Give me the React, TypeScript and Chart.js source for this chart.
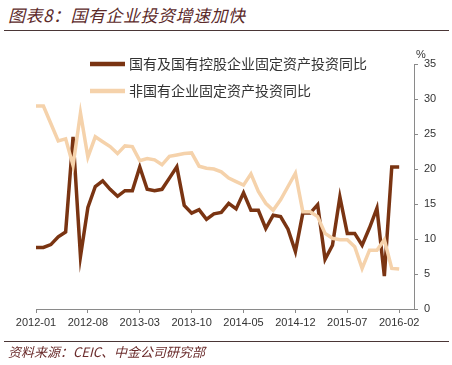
import React, { useEffect, useRef } from "react";
import { Chart, registerables } from "chart.js";

Chart.register(...registerables);

// ---- data ----
const months: string[] = (() => {
  const out: string[] = [];
  for (let k = 0; k < 52; k++) {
    const y = 2012 + Math.floor(k / 12);
    const m = (k % 12) + 1;
    out.push(`${y}-${m < 10 ? "0" + m : m}`);
  }
  return out;
})();

const tickLabels = ["2012-01", "2012-08", "2013-03", "2013-10", "2014-05", "2014-12", "2015-07", "2016-02"];

const soeLabel = "国有及国有控股企业固定资产投资同比";
const soeValues = [
  8.8, 8.8, 9.2, 10.3, 11.0, 24.6, 7.5, 14.5, 17.5, 18.3,
  17.1, 16.1, 16.9, 16.9, 20.3, 17.1, 16.9, 17.1, 18.7, 20.3,
  14.8, 13.7, 14.2, 12.8, 13.6, 13.8, 15.1, 14.3, 16.6, 14.1,
  14.1, 11.5, 13.4, 13.2, 11.4, 8.2, 13.7, 13.7, 14.9, 7.1,
  9.1, 16.0, 10.8, 10.8, 9.1, 11.6, 14.4, 4.7, 20.3, 20.3,
];

const nonSoeLabel = "非国有企业固定资产投资同比";
const nonSoeValues = [
  29.0, 29.0, 26.5, 24.0, 24.3, 20.5, 28.0, 21.7, 24.6, 23.9,
  23.2, 22.2, 23.3, 23.2, 21.2, 21.5, 21.3, 20.6, 21.8, 22.0,
  22.2, 22.3, 20.4, 20.1, 20.0, 19.6, 18.7, 18.2, 17.7, 19.3,
  16.8, 15.1, 14.1, 15.6, 17.5, 19.4, 13.9, 13.9, 13.2, 10.8,
  10.1, 9.9, 9.9, 8.9, 5.8, 8.4, 8.4, 9.9, 5.8, 5.7,
];

const yTicks = [0, 5, 10, 15, 20, 25, 30, 35];

const DARK = "#7a3412";
const LIGHT = "#f5d2ab";
const TEXT = "#333333";
const AXIS = "#8a8a8a";

const legendPlugin = {
  id: "customLegend",
  afterDraw(chart: any) {
    const ctx = chart.ctx;
    const items = [
      { label: soeLabel, color: DARK, y: 64 },
      { label: nonSoeLabel, color: LIGHT, y: 91 },
    ];
    ctx.save();
    items.forEach((it) => {
      ctx.strokeStyle = it.color;
      ctx.lineWidth = 4.5;
      ctx.beginPath();
      ctx.moveTo(90, it.y);
      ctx.lineTo(125, it.y);
      ctx.stroke();
      ctx.fillStyle = TEXT;
      ctx.font = '14px "Noto Sans CJK SC"';
      ctx.textBaseline = "middle";
      ctx.textAlign = "left";
      ctx.fillText(it.label, 129, it.y);
    });
    const yScale = chart.scales.y;
    ctx.font = '11px "Liberation Sans", Arial, sans-serif';
    ctx.textAlign = "center";
    ctx.fillStyle = TEXT;
    ctx.fillText("%", yScale.left + 7, yScale.top - 9);
    ctx.restore();
  },
};

export default function App() {
  const ref = useRef<HTMLCanvasElement | null>(null);

  useEffect(() => {
    if (!ref.current) return;
    const chart = new Chart(ref.current, {
      type: "line",
      data: {
        labels: months,
        datasets: [
          {
            label: soeLabel,
            data: soeValues,
            borderColor: DARK,
            backgroundColor: DARK,
            borderWidth: 3.5,
            pointRadius: 0,
            tension: 0,
            order: 2,
          },
          {
            label: nonSoeLabel,
            data: nonSoeValues,
            borderColor: LIGHT,
            backgroundColor: LIGHT,
            borderWidth: 3.5,
            pointRadius: 0,
            tension: 0,
            order: 1,
          },
        ],
      },
      options: {
        animation: false,
        responsive: false,
        layout: { padding: { left: 36, top: 64, right: 0, bottom: 0 } },
        plugins: {
          legend: { display: false },
          tooltip: { enabled: false },
          title: { display: false },
        },
        scales: {
          x: {
            type: "category",
            grid: { display: true, drawOnChartArea: false, drawTicks: true, tickLength: 4, color: AXIS },
            border: { display: true, color: AXIS, width: 1 },
            ticks: {
              autoSkip: false,
              maxRotation: 0,
              minRotation: 0,
              padding: 3,
              color: TEXT,
              font: { family: '"Liberation Sans", Arial, sans-serif', size: 11 },
              callback: (_v: any, i: number) => {
                const label = months[i];
                return tickLabels.includes(label) ? label : null;
              },
            },
            afterFit: (s: any) => {
              s.height = 56;
            },
          },
          y: {
            position: "right",
            min: 0,
            max: 35,
            afterBuildTicks: (s: any) => {
              s.ticks = yTicks.map((v) => ({ value: v }));
            },
            grid: { display: true, drawOnChartArea: false, drawTicks: true, tickLength: 4, color: AXIS },
            border: { display: true, color: AXIS, width: 1 },
            ticks: {
              padding: 6,
              color: TEXT,
              font: { family: '"Liberation Sans", Arial, sans-serif', size: 11 },
            },
            afterFit: (s: any) => {
              s.width = 38;
            },
          },
        },
      },
      plugins: [legendPlugin],
    });
    return () => chart.destroy();
  }, []);

  const rule: React.CSSProperties = {
    position: "absolute",
    left: 4,
    width: 445,
    height: 1,
    background: "#4a3636",
  };

  return (
    <div style={{ position: "absolute", left: 0, top: 0, width: 452, height: 365, background: "#fff", overflow: "hidden" }}>
      <div
        style={{
          position: "absolute",
          left: 8,
          top: 4,
          fontFamily: '"Noto Sans CJK SC", sans-serif',
          fontStyle: "italic",
          fontSize: 17,
          lineHeight: "22px",
          letterSpacing: 0.5,
          color: "#5c2a2a",
          whiteSpace: "nowrap",
        }}
      >
        图表8：国有企业投资增速加快
      </div>
      <div style={{ ...rule, top: 30 }} />
      <canvas ref={ref} width={452} height={365} style={{ position: "absolute", left: 0, top: 0 }} />
      <div style={{ ...rule, top: 341 }} />
      <div
        style={{
          position: "absolute",
          left: 8,
          top: 342,
          fontFamily: '"Noto Sans CJK SC", sans-serif',
          fontStyle: "italic",
          fontSize: 13,
          lineHeight: "20px",
          color: "#6b2c2c",
          whiteSpace: "nowrap",
        }}
      >
        资料来源：CEIC、中金公司研究部
      </div>
    </div>
  );
}
